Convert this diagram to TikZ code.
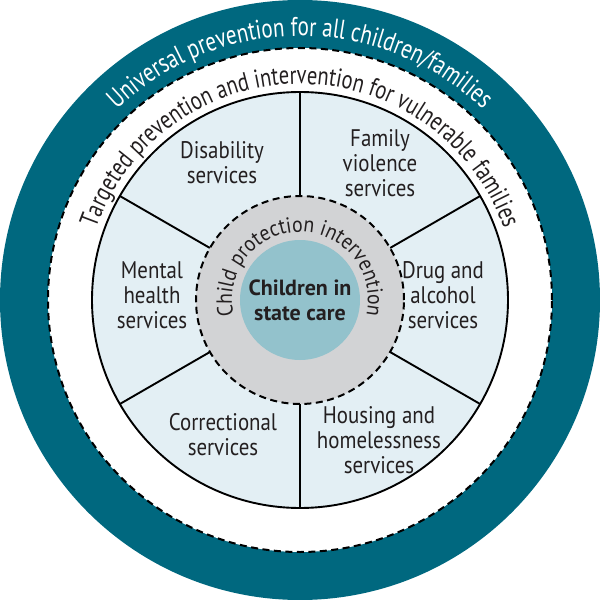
\documentclass[tikz,border=0pt]{standalone}
\usepackage{fontspec}
\setmainfont{PT Sans}
\newfontfamily\univfont[FakeStretch=0.78]{PT Sans}
\newfontfamily\targfont[FakeStretch=0.79]{PT Sans}
\newfontfamily\cpfont[FakeStretch=0.9]{PT Sans}
\newfontfamily\svcfont[FakeStretch=0.87]{PT Sans}
\usetikzlibrary{decorations.text}
\definecolor{teal1}{HTML}{00687F}
\definecolor{sector}{HTML}{E3EFF4}
\definecolor{cpgray}{HTML}{D2D3D5}
\definecolor{core}{HTML}{93C2CC}
\definecolor{ink}{HTML}{231F20}
\tikzset{
  dashring/.style={draw=black, line width=2pt, dash pattern=on 7pt off 4.5pt},
  solidring/.style={draw=black, line width=1.9pt},
  divider/.style={draw=black, line width=1.9pt},
  svc/.style={align=center, text=ink, font=\svcfont\fontsize{24}{25}\selectfont, inner sep=0pt},
}
\begin{document}
\begin{tikzpicture}[x=1pt,y=1pt]
\useasboundingbox (-300,-300) rectangle (300,300);
% universal ring
\fill[teal1] (0,0) circle (300);
\fill[white] (0,0) circle (252);
\path[dashring] (0,0) circle (252);
% targeted ring (services)
\path[fill=sector, solidring] (0,0) circle (208);
\foreach \a in {30,90,150,210,270,330}
  \draw[divider] (\a:104) -- (\a:208);
% child protection ring
\path[fill=cpgray, dashring] (0,0) circle (104);
% core
\fill[core] (0,0) circle (60);
% ring texts
\path[decorate, decoration={text along path, text align=center,
  text={|\color{white}\univfont\fontsize{27}{30}\selectfont|Universal prevention for all children/families}}]
  (170:264) arc (170:10:264);
\path[decorate, decoration={text along path, text align=center,
  text={|\color{ink}\targfont\fontsize{26}{30}\selectfont|Targeted prevention and intervention for vulnerable families}}]
  (178:216) arc (178:2:216);
\path[decorate, decoration={text along path, text align=center,
  text={|\color{ink}\cpfont\fontsize{22}{24}\selectfont|Child protection intervention}}]
  (205:68) arc (205:-25:68);
% service labels
\node[svc] (dis) at (-78,137) {Disability\\services};
\node[svc] (fam) at (80,137) {Family\\violence\\services};
\node[svc] (drug) at (143,5) {Drug and\\alcohol\\services};
\node[svc] (ment) at (-148,5) {Mental\\health\\services};
\node[svc] (corr) at (-77,-135) {Correctional\\services};
\node[svc] (hous) at (79,-140) {Housing and\\homelessness\\services};
\node[svc, font=\bfseries\fontsize{22}{25}\selectfont] (care) at (0,0) {Children in\\state care};
\end{tikzpicture}
\end{document}
